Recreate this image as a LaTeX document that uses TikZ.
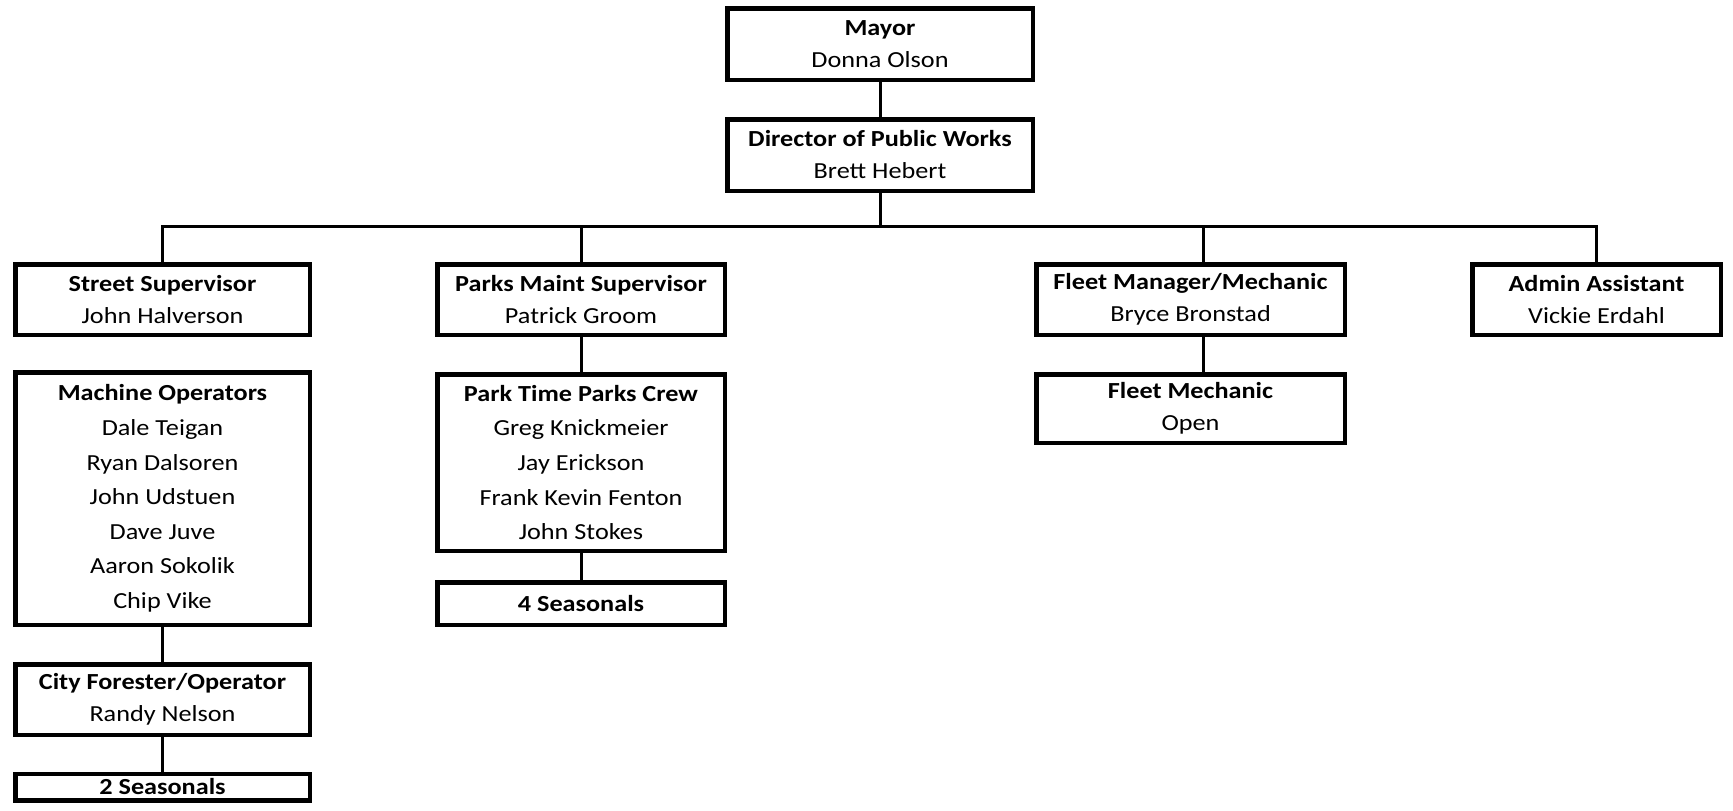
\documentclass[tikz,border=0pt]{standalone}
\usepackage{fontspec}
\setmainfont{Carlito}[FakeStretch=1.14]
\begin{document}
\begin{tikzpicture}[x=1pt,y=-1pt,
  box/.style={draw, line width=4.5pt, inner sep=0pt, align=center,
    font=\fontsize{23}{32}\selectfont},
  tallbox/.style={box, font=\fontsize{23}{34.6}\selectfont},
  conn/.style={line width=3pt}]
\useasboundingbox (0,0) rectangle (1733,811);
% top
\node[box, minimum width=305.5pt, minimum height=71.5pt] (mayor) at (880,44) {\textbf{Mayor}\\Donna Olson};
\node[box, minimum width=305.5pt, minimum height=71.5pt] (director) at (880,155) {\textbf{Director of Public Works}\\Brett Hebert};
% second row
\node[box, minimum width=294.5pt, minimum height=70.5pt] (street) at (162.5,299.5) {\textbf{Street Supervisor}\\John Halverson};
\node[box, minimum width=287.5pt, minimum height=70.5pt] (parks) at (581,299.5) {\textbf{Parks Maint Supervisor}\\Patrick Groom};
\node[box, minimum width=308.5pt, minimum height=70.5pt] (fleet) at (1190.5,299.5) {\textbf{Fleet Manager/Mechanic}\\Bryce Bronstad};
\node[box, minimum width=248.5pt, minimum height=70.5pt] (admin) at (1596.5,299.5) {\textbf{Admin Assistant}\\Vickie Erdahl};
% lower
\node[tallbox, minimum width=294.5pt, minimum height=252.5pt] (machine) at (162.5,498.5) {\textbf{Machine Operators}\\Dale Teigan\\Ryan Dalsoren\\John Udstuen\\Dave Juve\\Aaron Sokolik\\Chip Vike};
\node[box, minimum width=294.5pt, minimum height=70.5pt] (forester) at (162.5,699.5) {\textbf{City Forester/Operator}\\Randy Nelson};
\node[box, minimum width=294.5pt, minimum height=26.5pt] (seas2) at (162.5,787) {\textbf{2 Seasonals}};
\node[tallbox, minimum width=287.5pt, minimum height=176.5pt] (crew) at (581,462.5) {\textbf{Park Time Parks Crew}\\Greg Knickmeier\\Jay Erickson\\Frank Kevin Fenton\\John Stokes};
\node[box, minimum width=287.5pt, minimum height=42.5pt] (seas4) at (581,603.5) {\textbf{4 Seasonals}};
\node[box, minimum width=308.5pt, minimum height=68.5pt] (fleetmech) at (1190.5,408.5) {\textbf{Fleet Mechanic}\\Open};
% connectors
\coordinate (bus) at (880,226);
\coordinate (fx) at (1203,226);
\draw[conn] (mayor) -- (director);
\draw[conn] (director) -- (bus);
\draw[conn] (street.north) |- (bus) -| (admin.north);
\draw[conn] (parks.north) -- (parks.north |- bus);
\draw[conn] (fx) -- (fx |- fleet.north);
\draw[conn] (fleet.south -| fx) -- (fx |- fleetmech.north);
\draw[conn] (parks) -- (crew);
\draw[conn] (crew) -- (seas4);
\draw[conn] (machine) -- (forester);
\draw[conn] (forester) -- (seas2);
\end{tikzpicture}
\end{document}
